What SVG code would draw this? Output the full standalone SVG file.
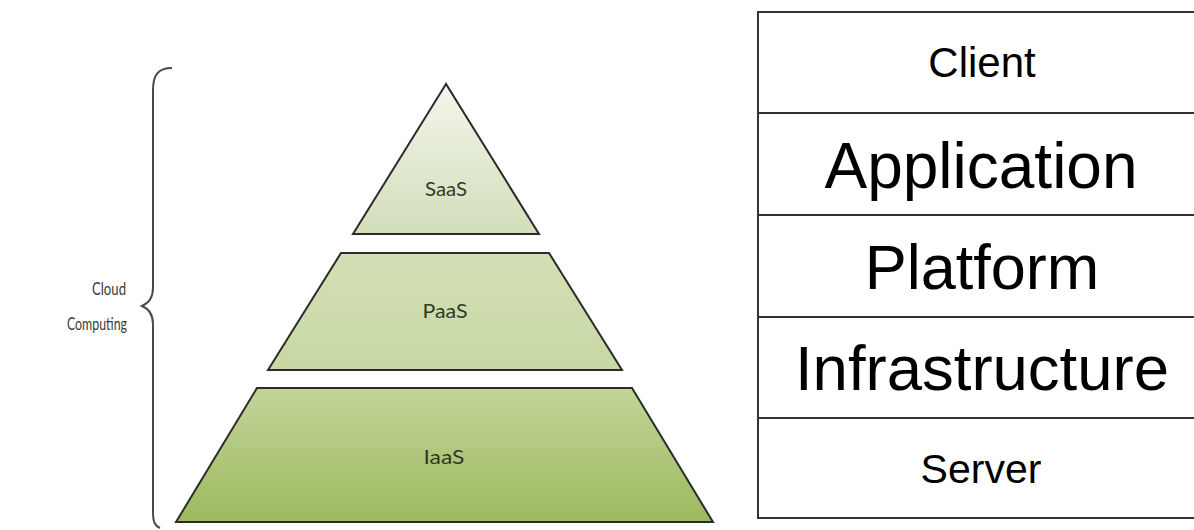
<svg xmlns="http://www.w3.org/2000/svg" width="1194" height="530" viewBox="0 0 1194 530">
<style>
.tier{stroke:#2b2b2b;stroke-width:2;stroke-linejoin:miter}
.tl{font-family:Lato,"Open Sans","Liberation Sans",sans-serif;font-size:19px;fill:#2f3a27;text-anchor:middle}
.cl{font-family:Lato,"Open Sans","Liberation Sans",sans-serif;font-size:18px;fill:#3a3a3a;text-anchor:end}
.row{fill:#fff;stroke:#333;stroke-width:2}
.rt{font-family:"Liberation Sans",Arial,sans-serif;fill:#000;text-anchor:middle}
</style>
<defs>
<linearGradient id="gS" x1="0" y1="0" x2="0" y2="1"><stop offset="0" stop-color="#f3f5ec"/><stop offset="1" stop-color="#d3deba"/></linearGradient>
<linearGradient id="gP" x1="0" y1="0" x2="0" y2="1"><stop offset="0" stop-color="#d3dfb6"/><stop offset="1" stop-color="#c7d8a3"/></linearGradient>
<linearGradient id="gI" x1="0" y1="0" x2="0" y2="1"><stop offset="0" stop-color="#c2d59a"/><stop offset="1" stop-color="#9db95e"/></linearGradient>
</defs>
<rect width="1194" height="530" fill="#fff"/>
<g id="brace">
<path d="M172,68 C158,68 153,75 153,90 L153,288 C153,298 149,303 142,306 C149,309 153,314 153,324 L153,512 C153,522 155,526 160,528" fill="none" stroke="#4a4a4a" stroke-width="2"/>
<text class="cl" x="126" y="295" textLength="34" lengthAdjust="spacingAndGlyphs">Cloud</text>
<text class="cl" x="127" y="330" textLength="60" lengthAdjust="spacingAndGlyphs">Computing</text>
</g>
<g id="saas">
<polygon class="tier" points="446,84 353,234 539,234" fill="url(#gS)"/>
<text class="tl" x="446" y="196" textLength="42" lengthAdjust="spacingAndGlyphs">SaaS</text>
</g>
<g id="paas">
<polygon class="tier" points="341,253 549,253 622,370 268,370" fill="url(#gP)"/>
<text class="tl" x="445" y="318" textLength="45" lengthAdjust="spacingAndGlyphs">PaaS</text>
</g>
<g id="iaas">
<polygon class="tier" points="257,388 632,388 713,522 176,522" fill="url(#gI)"/>
<text class="tl" x="444" y="464" textLength="41" lengthAdjust="spacingAndGlyphs">IaaS</text>
</g>
<g id="stack">
<g id="client"><rect class="row" x="758" y="12" width="450" height="101"/><text class="rt" x="982" y="77" font-size="42">Client</text></g>
<g id="application"><rect class="row" x="758" y="113" width="450" height="102"/><text class="rt" x="981" y="188" font-size="64">Application</text></g>
<g id="platform"><rect class="row" x="758" y="215" width="450" height="102"/><text class="rt" x="982" y="289" font-size="63">Platform</text></g>
<g id="infrastructure"><rect class="row" x="758" y="317" width="450" height="101"/><text class="rt" x="982" y="390" font-size="63.5">Infrastructure</text></g>
<g id="server"><rect class="row" x="758" y="418" width="450" height="100"/><text class="rt" x="981" y="483" font-size="41">Server</text></g>
</g>
<g id="connectors"/>
</svg>
